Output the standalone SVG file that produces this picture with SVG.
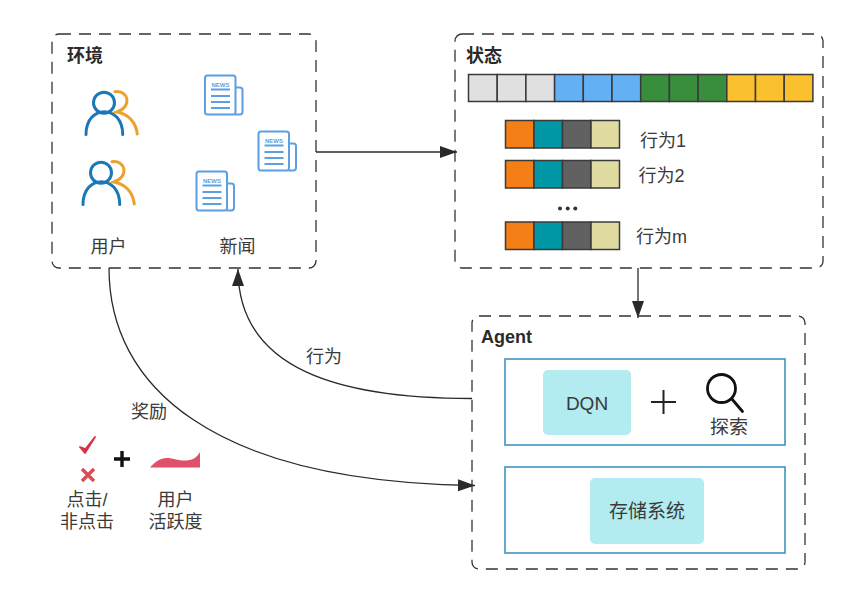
<svg xmlns="http://www.w3.org/2000/svg" width="857" height="603" viewBox="0 0 857 603">
  <style>
    text { font-family: "Liberation Sans", "Noto Sans CJK SC", sans-serif; font-size: 18px; fill: #3a3a3a; }
    .title { font-weight: 700; font-size: 18px; fill: #2b2b2b; }
    .mid { text-anchor: middle; }
    .frame { fill: #fff; stroke: #333; stroke-width: 1.3; stroke-dasharray: 12 8; }
    .inner { fill: #fff; stroke: #3c94c0; stroke-width: 1.6; }
    .tile { fill: #b2ebf0; }
    .conn { fill: none; stroke: #2a2a2a; stroke-width: 1.3; }
    .cell { stroke: #3a3a3a; stroke-width: 1.5; }
    .gray { fill: #e0e0e0; } .blue { fill: #64b0f5; } .green { fill: #388e3c; } .yellow { fill: #fbc02d; }
    .orange { fill: #f57f17; } .teal { fill: #0097a7; } .slate { fill: #616161; } .khaki { fill: #e0dba0; }
    .blueline { fill: none; stroke: #1a78b8; stroke-width: 3; stroke-linecap: round; }
    .amberline { fill: none; stroke: #eda02c; stroke-width: 3; stroke-linecap: round; }
    .paper { fill: #fff; stroke: #5d9fe0; stroke-width: 2; stroke-linejoin: round; }
    .rule { stroke: #5d9fe0; stroke-width: 1.8; }
    .newsword { font-size: 6px; font-weight: 700; fill: #5d9fe0; text-anchor: middle; }
  </style>
  <defs>
    <marker id="head" markerWidth="18" markerHeight="14" refX="17" refY="6" orient="auto" markerUnits="userSpaceOnUse">
      <path d="M0 0 L17 6 L0 12 Z" fill="#2a2a2a"/>
    </marker>
    <g id="people">
      <circle cx="104" cy="102.7" r="10.5" class="blueline"/>
      <path d="M86 134.500 C86 104 122.700 104 122.700 134.500" class="blueline"/>
      <path d="M115 91.700 C128 90 133 106 117 112 C128 114 136 122 137.300 134" class="amberline"/>
    </g>
    <g id="newspaper">
      <path d="M30 12 H35 Q37.500 12 37.500 14.500 V36 Q37.500 39 35 39 H30" class="paper"/>
      <rect x="0" y="0" width="30.500" height="39" rx="2.500" class="paper"/>
      <path d="M6 14 H25 M6 20.500 H25 M6 26.500 H25 M6 32.500 H25" class="rule"/>
    </g>
  </defs>

  <rect width="857" height="603" fill="#fff"/>

  <g id="environment">
    <rect x="52" y="34" width="264" height="234" rx="7" class="frame"/>
    <text x="67" y="62" class="title">环境</text>
    <use href="#people"/>
    <use href="#people" x="-3" y="70"/>
    <use href="#newspaper" x="205" y="75.500"/>
    <text x="220.500" y="87" class="newsword">NEWS</text>
    <use href="#newspaper" x="258.500" y="131.500"/>
    <text x="274" y="143" class="newsword">NEWS</text>
    <use href="#newspaper" x="196.500" y="171.500"/>
    <text x="212" y="183" class="newsword">NEWS</text>
    <text x="108.500" y="253" class="mid">用户</text>
    <text x="237.500" y="253" class="mid">新闻</text>
  </g>

  <g id="state">
    <rect x="455" y="34" width="368" height="234" rx="7" class="frame"/>
    <text x="466" y="62" class="title">状态</text>
    <g class="cell">
      <rect x="468.500" y="74.500" width="28.700" height="27" class="gray"/>
      <rect x="497.200" y="74.500" width="28.700" height="27" class="gray"/>
      <rect x="525.900" y="74.500" width="28.700" height="27" class="gray"/>
      <rect x="554.600" y="74.500" width="28.700" height="27" class="blue"/>
      <rect x="583.300" y="74.500" width="28.700" height="27" class="blue"/>
      <rect x="612" y="74.500" width="28.700" height="27" class="blue"/>
      <rect x="640.700" y="74.500" width="28.700" height="27" class="green"/>
      <rect x="669.400" y="74.500" width="28.700" height="27" class="green"/>
      <rect x="698.100" y="74.500" width="28.700" height="27" class="green"/>
      <rect x="726.800" y="74.500" width="28.700" height="27" class="yellow"/>
      <rect x="755.500" y="74.500" width="28.700" height="27" class="yellow"/>
      <rect x="784.200" y="74.500" width="28.700" height="27" class="yellow"/>
    </g>
    <g class="cell">
      <rect x="505.500" y="120.500" width="28.500" height="27.500" class="orange"/>
      <rect x="534" y="120.500" width="28.500" height="27.500" class="teal"/>
      <rect x="562.500" y="120.500" width="28.500" height="27.500" class="slate"/>
      <rect x="591" y="120.500" width="28.500" height="27.500" class="khaki"/>
      <rect x="505.500" y="160.500" width="28.500" height="27.500" class="orange"/>
      <rect x="534" y="160.500" width="28.500" height="27.500" class="teal"/>
      <rect x="562.500" y="160.500" width="28.500" height="27.500" class="slate"/>
      <rect x="591" y="160.500" width="28.500" height="27.500" class="khaki"/>
      <rect x="505.500" y="222" width="28.500" height="27.500" class="orange"/>
      <rect x="534" y="222" width="28.500" height="27.500" class="teal"/>
      <rect x="562.500" y="222" width="28.500" height="27.500" class="slate"/>
      <rect x="591" y="222" width="28.500" height="27.500" class="khaki"/>
    </g>
    <text x="640" y="147">行为1</text>
    <text x="638.500" y="182">行为2</text>
    <text x="636" y="243">行为m</text>
    <circle cx="560" cy="208.500" r="2" fill="#333"/>
    <circle cx="567.700" cy="208.500" r="2" fill="#333"/>
    <circle cx="575.300" cy="208.500" r="2" fill="#333"/>
  </g>

  <g id="agent">
    <rect x="472" y="316" width="333" height="253" rx="7" class="frame"/>
    <text x="481" y="343" class="title" style="font-size:18px;font-weight:600">Agent</text>
    <rect x="505" y="359" width="280" height="86" class="inner"/>
    <rect x="505" y="467" width="280" height="86" class="inner"/>
    <rect x="543" y="370" width="88" height="65" rx="5" class="tile"/>
    <text x="587" y="410" class="mid" style="font-size:19px">DQN</text>
    <path d="M651 402 H676 M663.500 390 V414" fill="none" stroke="#222" stroke-width="2"/>
    <circle cx="721.500" cy="388.500" r="14" fill="none" stroke="#111" stroke-width="2.800"/>
    <path d="M731.500 398.500 L742.500 411.500" fill="none" stroke="#111" stroke-width="2.800" stroke-linecap="round"/>
    <text x="729" y="434" class="mid" style="font-size:19px">探索</text>
    <rect x="590" y="478" width="114" height="66" rx="5" class="tile"/>
    <text x="647" y="518" class="mid" style="font-size:19px">存储系统</text>
  </g>

  <g id="connectors">
    <path d="M316 152 H457" class="conn" marker-end="url(#head)"/>
    <path d="M638 268 V318" class="conn" marker-end="url(#head)"/>
    <path d="M472 398.500 C340 398.500 238 370 238 269" class="conn" marker-end="url(#head)"/>
    <path d="M109 268 C109 385 210 482 475 485.500" class="conn" marker-end="url(#head)"/>
  </g>

  <g id="action-label">
    <text x="306" y="363">行为</text>
  </g>

  <g id="reward">
    <text x="131" y="418">奖励</text>
    <path d="M80 447 L85 453 L95 437 L85.500 449 Z" fill="#d8304a" stroke="#d8304a" stroke-width="1.800" stroke-linejoin="round"/>
    <path d="M82 469 L94 481 M94 469 L82 481" fill="none" stroke="#dc4a52" stroke-width="3.400"/>
    <path d="M114 459 H130 M122 451 V467" fill="none" stroke="#111" stroke-width="3.400"/>
    <path d="M150 467.500 C155 462 160 458 167 458 C173 458 177 460.500 184 460.500 C192 460.500 197 458 200 452 V467.500 Z" fill="#e0506a"/>
    <text x="87" y="506" class="mid">点击/</text>
    <text x="87" y="528" class="mid">非点击</text>
    <text x="175.500" y="506" class="mid">用户</text>
    <text x="175.500" y="528" class="mid">活跃度</text>
  </g>
</svg>
